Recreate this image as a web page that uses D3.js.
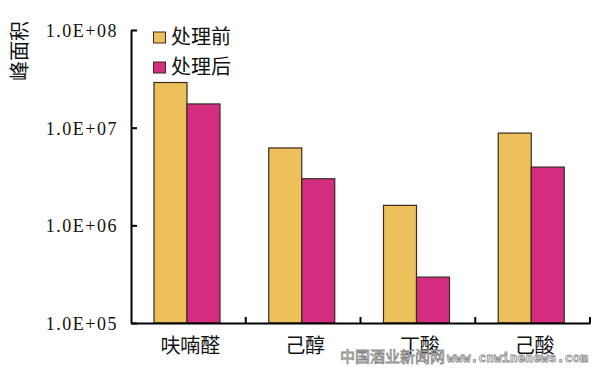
<!DOCTYPE html>
<html><head><meta charset="utf-8">
<script src="https://cdn.jsdelivr.net/npm/d3@7"></script>
<style>body{margin:0;background:#fff}svg{display:block}</style>
</head><body>
<svg id="c" width="600" height="375"></svg>
<script>
const categories = ["呋喃醛", "己醇", "丁酸", "己酸"];
const seriesNames = ["处理前", "处理后"];
const before = [2.9e7, 6.2e6, 1.6e6, 8.8e6];
const after = [1.75e7, 3.0e6, 2.95e5, 3.95e6];
const yTicks = [1e5, 1e6, 1e7, 1e8];
const yTickLabels = ["1.0E+05", "1.0E+06", "1.0E+07", "1.0E+08"];
const colors = ["#EDC05C", "#D42D80"];

const svg = d3.select("#c");
const L = 131, R = 590, T = 30, B = 323;
const y = d3.scaleLog().domain([1e5, 1e8]).range([B, T]);
const x0 = d3.scaleBand().domain(categories).range([L, R]);
const x1 = d3.scaleBand().domain(seriesNames).range([23, 89]);
const values = [before, after];

// bars
const g = svg.append("g");
categories.forEach((c, i) => {
  seriesNames.forEach((s, j) => {
    g.append("rect")
      .attr("x", x0(c) + x1(s))
      .attr("y", y(values[j][i]))
      .attr("width", x1.bandwidth())
      .attr("height", B - y(values[j][i]))
      .attr("fill", colors[j])
      .attr("stroke", "#3a2a20")
      .attr("stroke-width", 1.2);
  });
});

// y axis
const yAxis = d3.axisLeft(y).tickValues(yTicks)
  .tickFormat((d, i) => yTickLabels[i])
  .tickSizeInner(-6).tickSizeOuter(0).tickPadding(13);
const ya = svg.append("g").attr("transform", `translate(${L},0)`).call(yAxis);
ya.select(".domain").attr("stroke", "#000").attr("stroke-width", 2);
ya.selectAll(".tick line").attr("stroke", "#000").attr("stroke-width", 2);
ya.attr("font-family", "'Liberation Serif', 'DejaVu Serif', serif").attr("font-size", 18);
ya.selectAll(".tick text")
  .attr("font-family", "'Liberation Serif', 'DejaVu Serif', serif")
  .attr("font-size", 18).attr("fill", "#111")
  .attr("letter-spacing", 1.5).attr("dy", "0.36em");

// x axis
const xAxis = d3.axisBottom(x0).tickSize(0).tickFormat("");
const xa = svg.append("g").attr("transform", `translate(0,${B})`).call(xAxis);
xa.select(".domain").attr("stroke", "#000").attr("stroke-width", 2);
categories.forEach(c => {
  svg.append("line")
    .attr("x1", x0(c) + x0.bandwidth()).attr("x2", x0(c) + x0.bandwidth())
    .attr("y1", B).attr("y2", B - 6)
    .attr("stroke", "#000").attr("stroke-width", 2);
  svg.append("text")
    .attr("x", x0(c) + x0.bandwidth() / 2 + 2).attr("y", 353)
    .attr("text-anchor", "middle")
    .attr("font-family", "'Noto Sans CJK SC', sans-serif")
    .attr("font-size", 20).attr("fill", "#111")
    .text(c);
});

// y axis title
svg.append("text")
  .attr("transform", "translate(27,51) rotate(-90)")
  .attr("text-anchor", "middle")
  .attr("font-family", "'Noto Sans CJK SC', sans-serif")
  .attr("font-size", 20).attr("fill", "#111")
  .text("峰面积");

// legend
seriesNames.forEach((s, j) => {
  const ly = 32 + j * 30;
  svg.append("rect").attr("x", 153.5).attr("y", ly).attr("width", 12).attr("height", 11)
    .attr("fill", colors[j]).attr("stroke", "#3a2a20").attr("stroke-width", 1);
  svg.append("text").attr("x", 171).attr("y", ly + 12)
    .attr("font-family", "'Noto Sans CJK SC', sans-serif")
    .attr("font-size", 20).attr("fill", "#111")
    .text(s);
});

// watermark
svg.append("text").attr("x", 340).attr("y", 362)
  .attr("font-family", "'Noto Sans CJK SC', sans-serif")
  .attr("font-size", 15).attr("fill", "#fff").attr("stroke", "#888").attr("stroke-width", 0.8)
  .text("中国酒业新闻网");
svg.append("text").attr("x", 447).attr("y", 362)
  .attr("font-family", "'DejaVu Sans Mono', monospace")
  .attr("font-size", 13).attr("font-weight", "bold").attr("fill", "#fff").attr("stroke", "#888").attr("stroke-width", 0.8)
  .attr("textLength", 141)
  .text("www.cnwinenews.com");
</script>
</body></html>
